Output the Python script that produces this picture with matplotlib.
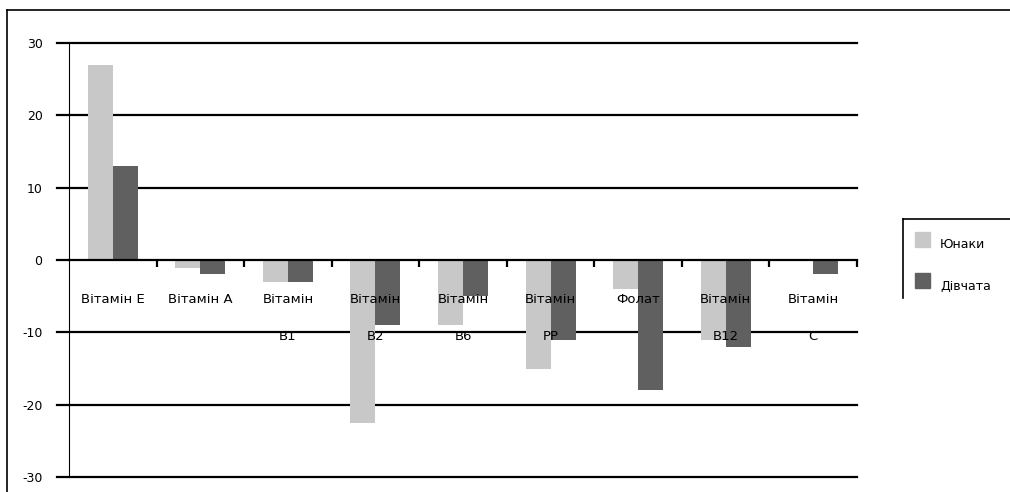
import numpy as np
import matplotlib.pyplot as plt
from matplotlib.lines import Line2D

# vitamin intake deviation, %, by group
categories = ["Вітамін Е", "Вітамін А", "Вітамін\nВ1", "Вітамін\nВ2", "Вітамін\nВ6",
              "Вітамін\nРР", "Фолат", "Вітамін\nВ12", "Вітамін\nС"]
boys = [27, -1.1, -3, -22.5, -9, -15, -4, -11, 0]
girls = [13, -2, -3, -9, -5, -11, -18, -12, -2]
series_names = ["Юнаки", "Дівчата"]
y_ticks = [-30, -20, -10, 0, 10, 20, 30]

LIGHT = "#c8c8c8"
DARK = "#606060"

fig = plt.figure(figsize=(10.1, 4.92), dpi=100)
ax = fig.add_axes([69 / 1010, 1 - 477 / 492, 788 / 1010, 434 / 492])

x = np.arange(len(categories))
w = 0.285
ax.bar(x - w / 2, boys, width=w, color=LIGHT, zorder=2)
ax.bar(x + w / 2, girls, width=w, color=DARK, zorder=2)

ax.set_xlim(-0.5, len(categories) - 0.5)
ax.set_ylim(-30, 30)

# horizontal gridlines reaching a little left of the value axis
for yv in y_ticks:
    if yv == 0:
        continue
    ax.axhline(yv, xmin=-12 / 788, xmax=1, color="black", lw=1.6,
               clip_on=False, zorder=1)

ax.set_yticks(y_ticks)
ax.set_yticklabels([str(v) for v in y_ticks], fontsize=9)
ax.tick_params(axis="y", length=0, pad=19)

# category axis sits on zero with boundary ticks pointing down
ax.spines["bottom"].set_position(("data", 0))
ax.spines["bottom"].set_linewidth(1.6)
ax.spines["bottom"].set_zorder(3)
ax.spines["top"].set_visible(False)
ax.spines["right"].set_visible(False)
ax.spines["left"].set_linewidth(0.8)
ax.set_xticks(np.arange(len(categories)) + 0.5)
ax.set_xticklabels([])
ax.tick_params(axis="x", direction="out", length=5, width=1.6)
ax.axhline(0, xmin=-12 / 788, xmax=0, color="black", lw=1.6, clip_on=False)

for i, label in enumerate(categories):
    ax.text(i, -4.5, label, ha="center", va="top", fontsize=9.5,
            linespacing=3.4, zorder=4)

# outer chart frame
fig.add_artist(Line2D([7 / 1010, 7 / 1010], [0, 1 - 10 / 492],
                      color="black", lw=1.2, transform=fig.transFigure))
fig.add_artist(Line2D([7 / 1010, 1], [1 - 10 / 492, 1 - 10 / 492],
                      color="black", lw=1.2, transform=fig.transFigure))

# legend box, partly outside the canvas
fig.add_artist(Line2D([903 / 1010, 903 / 1010], [1 - 219 / 492, 1 - 298 / 492],
                      color="black", lw=1.2, transform=fig.transFigure))
fig.add_artist(Line2D([903 / 1010, 1], [1 - 219 / 492, 1 - 219 / 492],
                      color="black", lw=1.2, transform=fig.transFigure))
for j, (name, col) in enumerate(zip(series_names, [LIGHT, DARK])):
    yc = 1 - (240 + j * 41) / 492
    fig.patches.append(plt.Rectangle((915 / 1010, yc - 7 / 492), 15 / 1010, 15 / 492,
                                     color=col, transform=fig.transFigure))
    fig.text(940 / 1010, yc - 5 / 492, name, fontsize=9, va="center", ha="left")

fig.savefig("out.png", dpi=100)
